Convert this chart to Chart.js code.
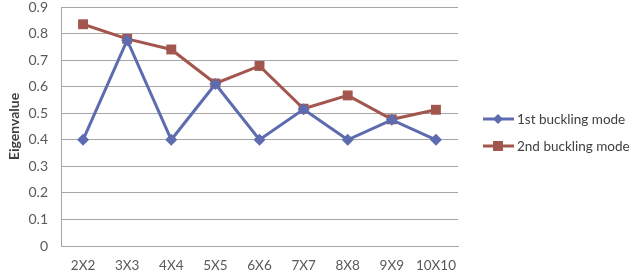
<!DOCTYPE html>
<html>
<head>
<meta charset="utf-8">
<script src="https://cdn.jsdelivr.net/npm/chart.js@4.4.1/dist/chart.umd.min.js"></script>
<style>
  html, body { margin: 0; padding: 0; background: #fff; }
  #wrap { width: 635px; height: 278px; position: relative; }
</style>
</head>
<body>
<div id="wrap"><canvas id="c"></canvas></div>
<script>
// values
const categories = ['2X2', '3X3', '4X4', '5X5', '6X6', '7X7', '8X8', '9X9', '10X10']
const firstMode = [0.40, 0.775, 0.40, 0.61, 0.40, 0.515, 0.40, 0.475, 0.40]
const secondMode = [0.835, 0.78, 0.74, 0.612, 0.678, 0.517, 0.567, 0.477, 0.513]
const yTicks = [0, 0.1, 0.2, 0.3, 0.4, 0.5, 0.6, 0.7, 0.8, 0.9]

const BLUE = '#5d6cb0'
const RED = '#a3564d'
const FONT = 'Lato, "Open Sans", sans-serif'

// legend drawn on canvas: line + marker + text, like the Excel legend
const legendPlugin = {
  id: 'sideLegend',
  afterDraw(chart) {
    const ctx = chart.ctx
    const items = chart.data.datasets
    const x0 = 483
    const rows = [119, 146]
    ctx.save()
    items.forEach((ds, i) => {
      const y = rows[i]
      ctx.strokeStyle = ds.borderColor
      ctx.lineWidth = 3
      ctx.beginPath()
      ctx.moveTo(x0, y)
      ctx.lineTo(x0 + 31, y)
      ctx.stroke()
      ctx.fillStyle = ds.borderColor
      ctx.beginPath()
      if (ds.pointStyle === 'rectRot') {
        ctx.moveTo(x0 + 15, y - 5)
        ctx.lineTo(x0 + 20, y)
        ctx.lineTo(x0 + 15, y + 5)
        ctx.lineTo(x0 + 10, y)
      } else {
        ctx.rect(x0 + 10, y - 5, 10, 10)
      }
      ctx.fill()
      ctx.fillStyle = '#404040'
      ctx.font = '13.5px ' + FONT
      ctx.textBaseline = 'middle'
      ctx.fillText(ds.label, x0 + 34, y + 1)
    })
    ctx.restore()
  }
}

new Chart(document.getElementById('c'), {
  type: 'line',
  data: {
    labels: categories,
    datasets: [
      {
        label: '1st buckling mode',
        data: firstMode,
        borderColor: BLUE,
        backgroundColor: BLUE,
        borderWidth: 3,
        pointStyle: 'rectRot',
        pointRadius: 6,
        pointBorderWidth: 0,
        tension: 0
      },
      {
        label: '2nd buckling mode',
        data: secondMode,
        borderColor: RED,
        backgroundColor: RED,
        borderWidth: 3,
        pointStyle: 'rect',
        pointRadius: 7,
        pointBorderWidth: 0,
        tension: 0
      }
    ]
  },
  options: {
    responsive: true,
    maintainAspectRatio: false,
    animation: false,
    layout: { padding: { left: 6, top: 6, right: 177, bottom: 0 } },
    plugins: {
      legend: { display: false },
      tooltip: { enabled: false }
    },
    scales: {
      x: {
        offset: true,
        grid: { display: false, drawTicks: false },
        border: { color: '#a6a6a6', width: 1 },
        ticks: { color: '#595959', font: { family: FONT, size: 13.5 }, padding: 12, maxRotation: 0 },
        afterFit(s) { s.height = 32 }
      },
      y: {
        min: 0,
        max: 0.9,
        afterBuildTicks(s) { s.ticks = yTicks.map(v => ({ value: v })) },
        grid: { color: '#a6a6a6', lineWidth: 1, drawTicks: false },
        border: { color: '#a6a6a6', width: 1 },
        ticks: {
          color: '#595959',
          font: { family: FONT, size: 14 },
          padding: 13,
          callback: v => String(Math.round(v * 10) / 10)
        },
        title: {
          display: true,
          text: 'Eigenvalue',
          color: '#404040',
          font: { family: FONT, size: 14, weight: 'bold' },
          padding: { top: 0, bottom: 2 }
        },
        afterFit(s) {
          s.width = 55
          s.paddingTop = 0
          s.paddingBottom = 0
        }
      }
    }
  },
  plugins: [legendPlugin]
})
</script>
</body>
</html>
